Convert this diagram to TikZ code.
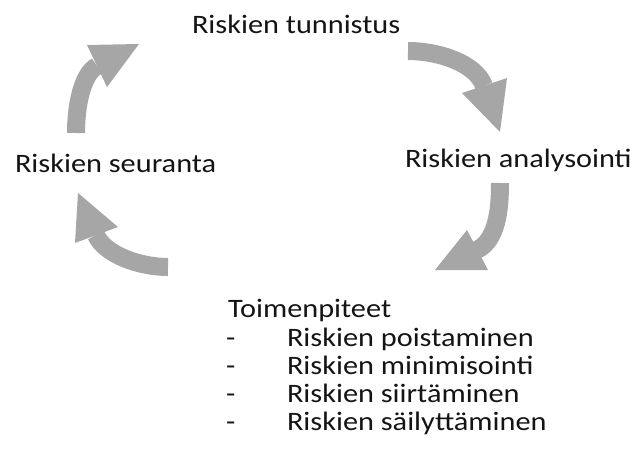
\documentclass[tikz,border=0pt]{standalone}
\usepackage{fontspec}
\setmainfont{Carlito}[FakeStretch=1.14]
\definecolor{arrowgray}{HTML}{A6A6A6}
\definecolor{txt}{HTML}{141414}
\begin{document}
\begin{tikzpicture}[x=1pt,y=-1pt,
  lbl/.style={anchor=base west,inner sep=0pt,outer sep=0pt,text=txt,font=\fontsize{26.6}{28}\selectfont},
  shaft/.style={draw=arrowgray,line width=18pt},
  head/.style={fill=arrowgray}]
\useasboundingbox (0,0) rectangle (631,461);
% labels
\node[lbl] (tun) at (192,33) {Riskien tunnistus};
\node[lbl] (ana) at (405,167) {Riskien analysointi};
\node[lbl] (seu) at (15,172) {Riskien seuranta};
\node[lbl] (toi) at (228,317) {Toimenpiteet};
\node[lbl] (d1) at (226,346) {-};
\node[lbl] (d2) at (226,374) {-};
\node[lbl] (d3) at (226,402) {-};
\node[lbl] (d4) at (226,430) {-};
\node[lbl] (l1) at (287,346) {Riskien poistaminen};
\node[lbl] (l2) at (287,374) {Riskien minimisointi};
\node[lbl] (l3) at (287,402) {Riskien siirtäminen};
\node[lbl] (l4) at (287,430) {Riskien säilyttäminen};
% arrow 1 (seuranta -> tunnistus)
\coordinate (a1s) at (76,133);
\coordinate (a1e) at (97,66);
\coordinate (a1p) at (87,45);
\coordinate (a1q) at (107,87);
\coordinate (a1t) at (139,44);
\draw[shaft] (a1s) .. controls (76,106) and (82,74) .. (a1e);
\fill[head] (a1p) -- (a1t) -- (a1q) -- cycle;
% arrow 2 (tunnistus -> analysointi)
\coordinate (a2s) at (408,51);
\coordinate (a2e) at (484,86);
\coordinate (a2p) at (462,93);
\coordinate (a2q) at (507,78);
\coordinate (a2t) at (500,132);
\draw[shaft] (a2s) .. controls (438,51) and (476,63) .. (a2e);
\fill[head] (a2p) -- (a2t) -- (a2q) -- cycle;
% arrow 3 (analysointi -> toimenpiteet)
\coordinate (a3s) at (500,183);
\coordinate (a3e) at (477,250);
\coordinate (a3p) at (467,230);
\coordinate (a3q) at (488,270);
\coordinate (a3t) at (435,270);
\draw[shaft] (a3s) .. controls (500,210) and (497,240) .. (a3e);
\fill[head] (a3p) -- (a3t) -- (a3q) -- cycle;
% arrow 4 (toimenpiteet -> seuranta)
\coordinate (a4s) at (168,267);
\coordinate (a4e) at (96,235);
\coordinate (a4p) at (75,243);
\coordinate (a4q) at (118,227);
\coordinate (a4t) at (78,193);
\draw[shaft] (a4s) .. controls (140,267) and (105,255) .. (a4e);
\fill[head] (a4p) -- (a4t) -- (a4q) -- cycle;
\end{tikzpicture}
\end{document}
